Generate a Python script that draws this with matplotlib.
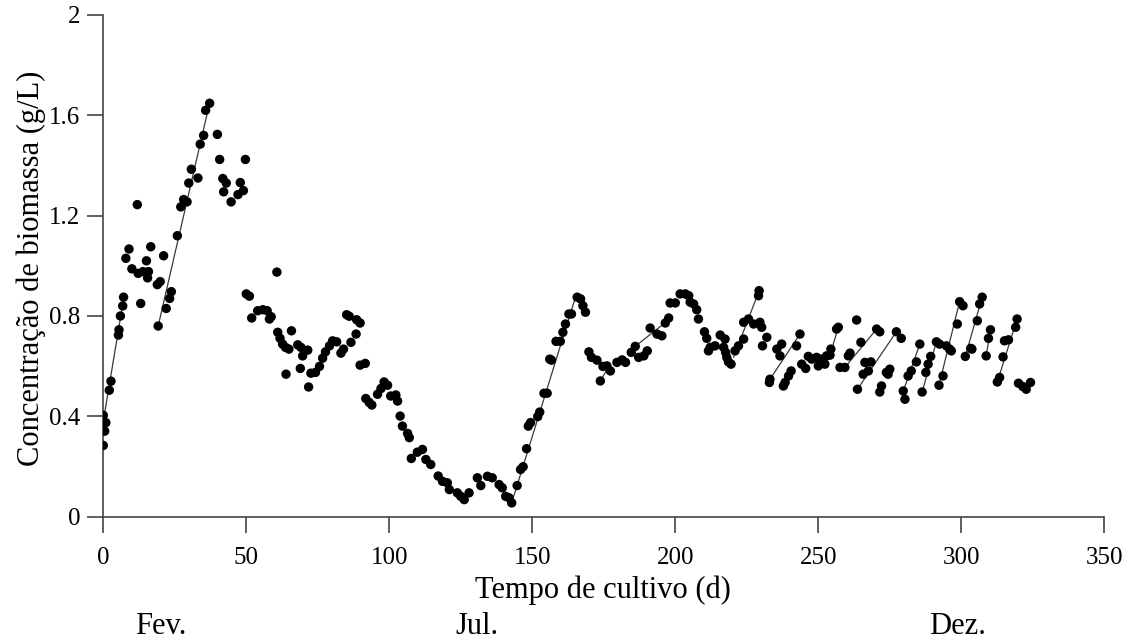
import matplotlib
matplotlib.use("Agg")
import matplotlib.pyplot as plt
import matplotlib.transforms as mtransforms

# ----------------------------
# Daten
# ----------------------------
dias = [
    0.0, 0.9, 0.5, 0.0, 2.1, 2.7, 5.3, 5.5, 6.0, 6.8, 7.1, 7.9, 9.0, 10.0, 11.9,
    12.2, 13.1, 13.9, 15.1, 15.5, 15.8, 16.6, 18.9, 19.2, 19.9, 21.1, 22.0, 23.2,
    23.8, 25.9, 27.1, 28.1, 29.3, 29.9, 30.8, 33.1, 33.9, 35.1, 35.8, 37.2, 39.9,
    40.7, 41.8, 42.1, 43.0, 44.7, 47.1, 47.9, 49.0, 49.7,
    50.0, 51.1, 51.9, 54.0, 55.8, 57.3, 58.7, 58.1, 60.7, 61.0, 61.8, 62.7, 63.7,
    64.9, 65.8, 63.9, 68.0, 69.1, 69.7, 71.5, 68.9, 71.8, 72.6, 74.2, 75.6, 76.7,
    77.7, 79.1, 80.2, 81.6, 83.1, 84.0, 85.1, 86.0, 88.6, 89.8, 88.4, 86.6, 89.8,
    91.6, 91.8, 93.0, 93.9, 95.9, 97.1, 98.2, 99.4, 100.5, 102.3, 102.9, 103.8,
    104.6, 106.4, 107.0, 107.7, 109.8, 111.6, 112.8, 114.5, 117.1, 118.6, 120.3,
    121.0,
    123.8, 125.0, 126.2, 127.9, 130.8, 132.0, 134.3, 136.0, 138.4, 139.5, 140.7,
    141.9, 142.8, 144.7, 145.9, 146.8, 148.0, 148.6, 149.4, 151.9, 152.6, 154.1,
    155.2, 156.1, 156.7, 158.3, 159.8, 160.7, 161.6, 162.8, 163.7, 165.7, 166.9,
    167.7, 168.6,
    169.8, 170.7, 172.6, 173.8, 174.7, 176.1, 177.3, 179.6, 181.4, 182.6, 184.6,
    186.0, 187.2, 189.0, 190.2, 191.2, 193.6, 195.3, 196.5, 197.7, 198.2, 200.0,
    201.7, 203.5, 204.7, 205.2, 206.4, 207.5, 208.1, 210.2, 211.0, 212.2, 211.6,
    213.9, 215.7, 217.4, 216.9, 217.6, 218.0, 218.6, 219.5, 220.9, 222.1, 223.9,
    223.9, 225.6, 227.4, 229.3, 229.1, 229.6, 230.2, 232.0, 230.5, 235.5, 237.2,
    236.6, 232.9, 233.1, 237.8, 238.4, 239.6, 240.5, 242.4, 243.6,
    244.2, 245.6, 246.5, 247.7, 249.4, 250.0, 251.2, 252.3, 252.9, 254.4, 254.1,
    256.4, 257.0, 257.6, 259.3, 260.5, 261.1, 263.4, 264.9, 270.4, 271.5, 263.7,
    265.7, 267.5, 266.3, 268.4, 271.5, 272.1, 273.8, 275.0, 274.4, 277.3, 279.0,
    279.7, 280.3, 281.4, 282.5, 284.3, 285.5, 286.3, 287.6, 288.4, 289.3, 291.3,
    292.4, 294.8, 295.9, 296.5, 292.2, 293.6, 298.6, 299.4, 300.6, 301.4, 303.3,
    303.7, 305.6, 306.4, 307.3, 308.7, 309.5, 310.2, 312.6, 313.4, 314.6, 315.1,
    316.5, 319.0, 319.5, 320.0, 321.5, 322.7, 324.2,
]

biomassa = [
    0.404, 0.375, 0.341, 0.284, 0.504, 0.540, 0.724, 0.745, 0.800, 0.840, 0.875,
    1.030, 1.067, 0.988, 1.244, 0.970, 0.850, 0.977, 1.020, 0.952, 0.977, 1.076,
    0.925, 0.760, 0.937, 1.040, 0.830, 0.870, 0.897, 1.120, 1.235, 1.264, 1.255,
    1.330, 1.385, 1.350, 1.485, 1.520, 1.620, 1.648, 1.524, 1.424, 1.348, 1.295,
    1.330, 1.255, 1.284, 1.332, 1.300, 1.424,
    0.888, 0.879, 0.792, 0.821, 0.825, 0.821, 0.797, 0.788, 0.975, 0.735, 0.711,
    0.688, 0.675, 0.668, 0.741, 0.568, 0.685, 0.675, 0.641, 0.664, 0.591, 0.517,
    0.572, 0.575, 0.599, 0.632, 0.657, 0.681, 0.701, 0.697, 0.652, 0.668, 0.805,
    0.799, 0.785, 0.772, 0.728, 0.695, 0.604, 0.611, 0.471, 0.455, 0.445, 0.488,
    0.511, 0.537, 0.524, 0.481, 0.485, 0.461, 0.401, 0.361, 0.332, 0.315, 0.232,
    0.257, 0.268, 0.228, 0.208, 0.162, 0.141, 0.135, 0.108,
    0.095, 0.081, 0.068, 0.095, 0.155, 0.124, 0.161, 0.155, 0.128, 0.115, 0.081,
    0.075, 0.055, 0.124, 0.188, 0.199, 0.271, 0.361, 0.375, 0.399, 0.417, 0.492,
    0.492, 0.628, 0.624, 0.699, 0.699, 0.735, 0.768, 0.808, 0.808, 0.875, 0.868,
    0.841, 0.815,
    0.657, 0.635, 0.624, 0.541, 0.599, 0.601, 0.581, 0.615, 0.625, 0.615, 0.655,
    0.679, 0.635, 0.641, 0.661, 0.752, 0.728, 0.721, 0.772, 0.792, 0.852, 0.852,
    0.888, 0.888, 0.881, 0.855, 0.848, 0.825, 0.788, 0.737, 0.711, 0.675, 0.661,
    0.681, 0.724, 0.708, 0.675, 0.655, 0.635, 0.617, 0.608, 0.661, 0.681, 0.708,
    0.775, 0.788, 0.768, 0.901, 0.881, 0.775, 0.755, 0.715, 0.681, 0.668, 0.688,
    0.641, 0.535, 0.548, 0.521, 0.535, 0.561, 0.581, 0.681, 0.728,
    0.608, 0.591, 0.639, 0.628, 0.635, 0.601, 0.628, 0.608, 0.641, 0.668, 0.644,
    0.748, 0.755, 0.595, 0.595, 0.641, 0.652, 0.784, 0.695, 0.748, 0.737, 0.508,
    0.568, 0.581, 0.615, 0.617, 0.497, 0.521, 0.575, 0.588, 0.568, 0.737, 0.711,
    0.501, 0.468, 0.561, 0.581, 0.617, 0.688, 0.497, 0.575, 0.608, 0.639, 0.697,
    0.688, 0.681, 0.668, 0.661, 0.524, 0.561, 0.768, 0.857, 0.841, 0.639, 0.671,
    0.668, 0.781, 0.848, 0.875, 0.641, 0.711, 0.745, 0.537, 0.555, 0.637, 0.701,
    0.705, 0.755, 0.788, 0.532, 0.519, 0.508, 0.535,
]

# Ajustes lineares das fases de crescimento (inicio / fim)
ajuste_dia_ini = [0.0, 19.2, 142.8, 173.8, 186.1, 220.4, 233.1, 254.1, 259.3,
                  263.7, 279.7, 286.3, 292.2, 301.4, 308.7, 312.6]
ajuste_dia_fim = [7.0, 36.8, 165.1, 176.3, 197.2, 229.3, 243.6, 257.0, 270.4,
                  277.3, 285.5, 291.3, 299.4, 307.3, 310.2, 319.5]
ajuste_c_ini = [0.38, 0.76, 0.055, 0.541, 0.68, 0.636, 0.548, 0.644, 0.595,
                0.508, 0.501, 0.497, 0.524, 0.639, 0.641, 0.537]
ajuste_c_fim = [0.86, 1.63, 0.875, 0.59, 0.78, 0.90, 0.728, 0.755, 0.748,
                0.737, 0.688, 0.697, 0.857, 0.875, 0.745, 0.788]

meses = ["Fev.", "Jul.", "Dez."]
meses_dia = [20, 130.7, 298.6]

x_ticks = [0, 50, 100, 150, 200, 250, 300, 350]
y_ticks = [0, 0.4, 0.8, 1.2, 1.6, 2.0]
y_ticklabels = ["0", "0.4", "0.8", "1.2", "1.6", "2"]

# ----------------------------
# Grafico
# ----------------------------
plt.rcParams['font.family'] = ['Liberation Serif', 'DejaVu Serif']

fig = plt.figure(figsize=(11.31, 6.40), dpi=100)
ax = fig.add_axes([0.0913, 0.1927, 0.8851, 0.7839])

for x0, x1, y0, y1 in zip(ajuste_dia_ini, ajuste_dia_fim, ajuste_c_ini, ajuste_c_fim):
    ax.plot([x0, x1], [y0, y1], color="#3a3a3a", linewidth=0.9, zorder=2)

ax.scatter(dias, biomassa, s=46, color="black", edgecolors="none", zorder=3)

ax.set_xlim(0, 350)
ax.set_ylim(0, 2)
ax.set_xticks(x_ticks)
ax.set_yticks(y_ticks)
ax.set_yticklabels(y_ticklabels)

for side in ["top", "right"]:
    ax.spines[side].set_visible(False)
for side in ["left", "bottom"]:
    ax.spines[side].set_color("#444444")
    ax.spines[side].set_linewidth(1.2)

ax.tick_params(direction="out", length=11.5, width=1.2, color="#444444",
               labelsize=18)
ax.tick_params(axis="x", pad=10)
ax.tick_params(axis="y", pad=5)

fig.text(603 / 1131, 1 - 590 / 640, "Tempo de cultivo (d)", fontsize=22,
         ha="center", va="center")
fig.text(31 / 1131, 1 - 268 / 640, "Concentração de biomassa (g/L)", fontsize=22,
         ha="center", va="center", rotation=90)

trans = mtransforms.blended_transform_factory(ax.transData, fig.transFigure)
for dia, mes in zip(meses_dia, meses):
    ax.text(dia, 1 - 626 / 640, mes, transform=trans, fontsize=22,
            ha="center", va="center", clip_on=False)

fig.savefig("out.png", dpi=100)
